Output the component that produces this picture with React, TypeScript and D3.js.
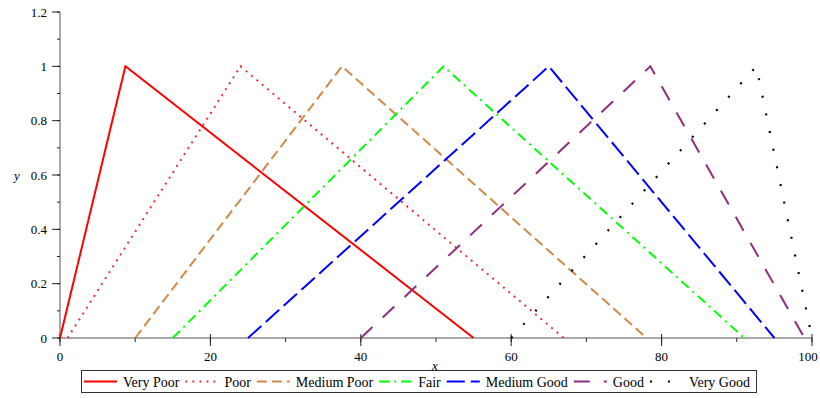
import React from 'react';
import * as d3 from 'd3';

const categories = ['Very Poor', 'Poor', 'Medium Poor', 'Fair', 'Medium Good', 'Good', 'Very Good'];
// triangular membership functions: start, peak, end (x where y = 0, 1, 0)
const starts = [0, 1, 10, 15, 25, 40, 60];
const peaks = [8.7, 24, 37.5, 51, 65, 78.5, 92.6];
const ends = [55, 67, 78, 91, 95, 99, 100];

const xTicks = [0, 20, 40, 60, 80, 100];
const yTicks = [0, 0.2, 0.4, 0.6, 0.8, 1, 1.2];

const colors = ['#ff0000', '#e0373a', '#d08a47', '#00ff00', '#0000ff', '#8e2d80', '#000000'];
const dashes = ['', '2,5', '10,5', '10,5,2,5', '18,6', '16,14', '2,16'];

const W = 820;
const H = 398;
const SERIF = 'Liberation Serif, Tinos, Times New Roman, Times, serif';

const measure = (txt: string, font: string) => {
  const c = document.createElement('canvas').getContext('2d');
  if (!c) return txt.length * 7;
  c.font = font;
  return c.measureText(txt).width;
};

const App = () => {
  const x = d3.scaleLinear().domain([0, 100]).range([60, 812]);
  const y = d3.scaleLinear().domain([0, 1.2]).range([338, 12]);

  const line = d3
    .line<[number, number]>()
    .x((d) => x(d[0]))
    .y((d) => y(d[1]));

  const series = categories.map((name, i) => ({
    name,
    pts: [
      [starts[i], 0],
      [peaks[i], 1],
      [ends[i], 0],
    ] as [number, number][],
  }));

  // legend layout
  const legFont = '14px "Liberation Serif", serif';
  const sampleW = 33;
  let cx = 84;
  const legend = categories.map((name, i) => {
    const item = { name, i, lx: cx, tx: cx + sampleW + 6 };
    cx = item.tx + measure(name, legFont) + 6;
    return item;
  });
  const legRight = cx;

  const yMinor = d3.range(0, 1.21, 0.1);
  const xMinor = d3.range(0, 101, 10);

  return (
    <div style={{ position: 'fixed', left: 0, top: 0 }}>
      <svg width={W} height={H} style={{ display: 'block', background: '#fff' }}>
        <g style={{ fontFamily: SERIF, fontSize: 13 }}>
          {/* y axis */}
          <line x1={x(0)} x2={x(0)} y1={y(1.2)} y2={y(0)} stroke="#555" />
          {yMinor.map((t) => (
            <line key={'ym' + t} x1={x(0) - 3} x2={x(0)} y1={y(t)} y2={y(t)} stroke="#222" />
          ))}
          {yTicks.map((t) => (
            <g key={'y' + t}>
              <line x1={x(0) - 8} x2={x(0)} y1={y(t)} y2={y(t)} stroke="#222" />
              <text x={x(0) - 13} y={y(t) + 4.5} textAnchor="end">
                {d3.format('~g')(t)}
              </text>
            </g>
          ))}
          {/* x axis */}
          <line x1={x(0)} x2={x(100)} y1={y(0)} y2={y(0)} stroke="#555" />
          {xMinor.map((t) => (
            <line key={'xm' + t} x1={x(t)} x2={x(t)} y1={y(0)} y2={y(0) + 4} stroke="#222" />
          ))}
          {xTicks.map((t) => (
            <g key={'x' + t}>
              <line x1={x(t)} x2={x(t)} y1={y(0) - 4} y2={y(0) + 8} stroke="#222" />
              <text x={Math.min(x(t), W - 12)} y={y(0) + 23} textAnchor="middle">
                {t}
              </text>
            </g>
          ))}
          <text x={17} y={180} fontStyle="italic" textAnchor="middle">
            y
          </text>
          <text x={435} y={370} fontStyle="italic" textAnchor="middle">
            x
          </text>
        </g>

        {series.map((s, i) => (
          <path
            key={s.name}
            d={line(s.pts) || ''}
            fill="none"
            stroke={colors[i]}
            strokeWidth={i === 6 ? 2.2 : 2}
            strokeDasharray={dashes[i] || undefined}
            strokeLinecap="butt"
          />
        ))}

        <g style={{ fontFamily: SERIF, fontSize: 14 }}>
          <rect x={81.5} y={370.5} width={legRight - 81} height={22} fill="#fff" stroke="#333" />
          {legend.map((it) => (
            <g key={it.name}>
              <line
                x1={it.lx}
                x2={it.lx + sampleW}
                y1={381.5}
                y2={381.5}
                stroke={colors[it.i]}
                strokeWidth={2}
                strokeDasharray={dashes[it.i] || undefined}
              />
              <text x={it.tx} y={386.5}>
                {it.name}
              </text>
            </g>
          ))}
        </g>
      </svg>
    </div>
  );
};

export default App;
